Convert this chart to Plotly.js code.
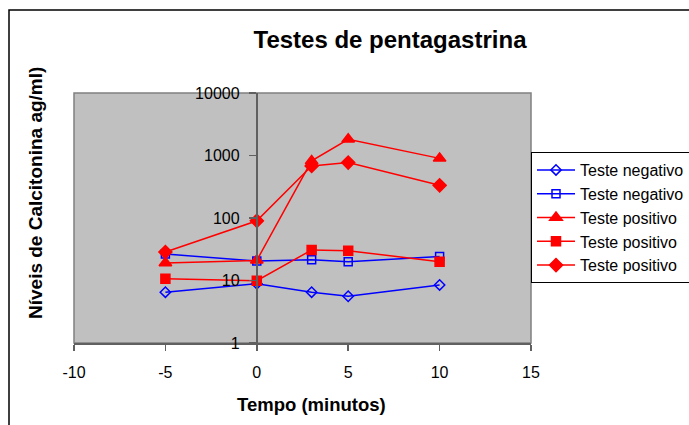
<!DOCTYPE html>
<html>
<head>
<meta charset="utf-8">
<script src="https://cdn.plot.ly/plotly-3.0.1.min.js"></script>
<style>html,body{margin:0;padding:0;background:#fff;}#chart{width:689px;height:425px;}</style>
</head>
<body>
<div id="chart"></div>
<script>
const tempo = [-5, 0, 3, 5, 10];
const negativo1 = [6.5, 8.9, 6.5, 5.6, 8.5];
const negativo2 = [26.5, 20.5, 21.5, 20, 24.3];
const positivo1 = [19, 21, 820, 1820, 900];
const positivo2 = [10.7, 9.9, 30.8, 30, 20];
const positivo3 = [28.6, 90, 680, 770, 333];
const seriesNames = ["Teste negativo", "Teste negativo", "Teste positivo", "Teste positivo", "Teste positivo"];
const yTicks = [1, 10, 100, 1000, 10000];
const yTickText = ["1", "10", "100", "1000", "10000"];
const xTicks = [-10, -5, 0, 5, 10, 15];
const xTickText = ["-10", "-5", "0", "5", "10", "15"];

const BLUE = "#0000ff", RED = "#ff0000";
const FONT = "Arial, 'Liberation Sans', sans-serif";

function tr(y, name, color, symbol, size, i) {
  return {
    x: tempo, y: y, name: name, type: "scatter", mode: "lines+markers",
    line: {color: color, width: 1.5},
    marker: {symbol: symbol, size: size, color: color, line: {color: color, width: 1.5}},
    legendgroup: "g" + i
  };
}
const data = [
  tr(negativo1, seriesNames[0], BLUE, "diamond-open", 8, 0),
  tr(negativo2, seriesNames[1], BLUE, "square-open", 8, 1),
  tr(positivo1, seriesNames[2], RED, "triangle-up", 11, 2),
  tr(positivo2, seriesNames[3], RED, "square", 9, 3),
  tr(positivo3, seriesNames[4], RED, "diamond", 10, 4)
];

const L = 74, T = 93, R = 158, B = 82, W = 689 - L - R, H = 425 - T - B;
const px = v => (v - L) / W;
const py = v => (425 - B - v) / H;

const layout = {
  width: 689, height: 425,
  margin: {l: L, r: R, t: T, b: B, pad: 0},
  paper_bgcolor: "#ffffff",
  plot_bgcolor: "#c0c0c0",
  font: {family: FONT, color: "#000000", size: 16},
  title: {
    text: "Testes de pentagastrina",
    font: {family: FONT, size: 24, weight: "bold", color: "#000"},
    xref: "paper", x: px(390), xanchor: "center",
    yref: "container", y: 1 - 40 / 425, yanchor: "middle"
  },
  xaxis: {
    range: [-10, 15], tickvals: xTicks, ticktext: xTickText, showgrid: false, zeroline: false,
    showline: true, linecolor: "#606060", linewidth: 1.5,
    ticks: "outside", ticklen: 6, tickcolor: "#606060", tickwidth: 1.5,
    tickfont: {family: FONT, size: 16, color: "#000"},
    ticklabelstandoff: 8, fixedrange: true
  },
  yaxis: {
    type: "log", range: [0, 4], tickvals: yTicks, ticktext: yTickText,
    anchor: "free", position: 0.4, showgrid: false, zeroline: false,
    showline: true, linecolor: "#606060", linewidth: 2,
    ticks: "outside", ticklen: 7, tickcolor: "#606060", tickwidth: 1.5,
    tickfont: {family: FONT, size: 16, color: "#000"},
    ticklabelstandoff: 6, fixedrange: true
  },
  legend: {
    xref: "container", yref: "container",
    x: 531 / 689, xanchor: "left", y: 1 - 152 / 425, yanchor: "top",
    bgcolor: "#ffffff", bordercolor: "#000000", borderwidth: 1,
    font: {family: FONT, size: 16, color: "#000"},
    tracegroupgap: 2, traceorder: "normal", itemwidth: 38
  },
  shapes: [
    {type: "rect", xref: "paper", yref: "paper", x0: 0, x1: 1, y0: 0, y1: 1,
     line: {color: "#808080", width: 1.5}, layer: "below"},
    {type: "rect", xref: "paper", yref: "paper", x0: px(9), x1: px(700), y0: py(440), y1: py(10),
     line: {color: "#000000", width: 1.5}, fillcolor: "rgba(0,0,0,0)"}
  ],
  annotations: [
    {text: "Níveis de Calcitonina ag/ml)", xref: "paper", yref: "paper",
     x: px(35), y: py(193), xanchor: "center", yanchor: "middle", textangle: -90,
     showarrow: false, font: {family: FONT, size: 19, weight: "bold", color: "#000"}},
    {text: "Tempo (minutos)", xref: "paper", yref: "paper",
     x: px(311), y: py(404), xanchor: "center", yanchor: "middle",
     showarrow: false, font: {family: FONT, size: 18.5, weight: "bold", color: "#000"}}
  ],
  showlegend: true
};

Plotly.newPlot("chart", data, layout, {staticPlot: true, displayModeBar: false});
</script>
</body>
</html>
